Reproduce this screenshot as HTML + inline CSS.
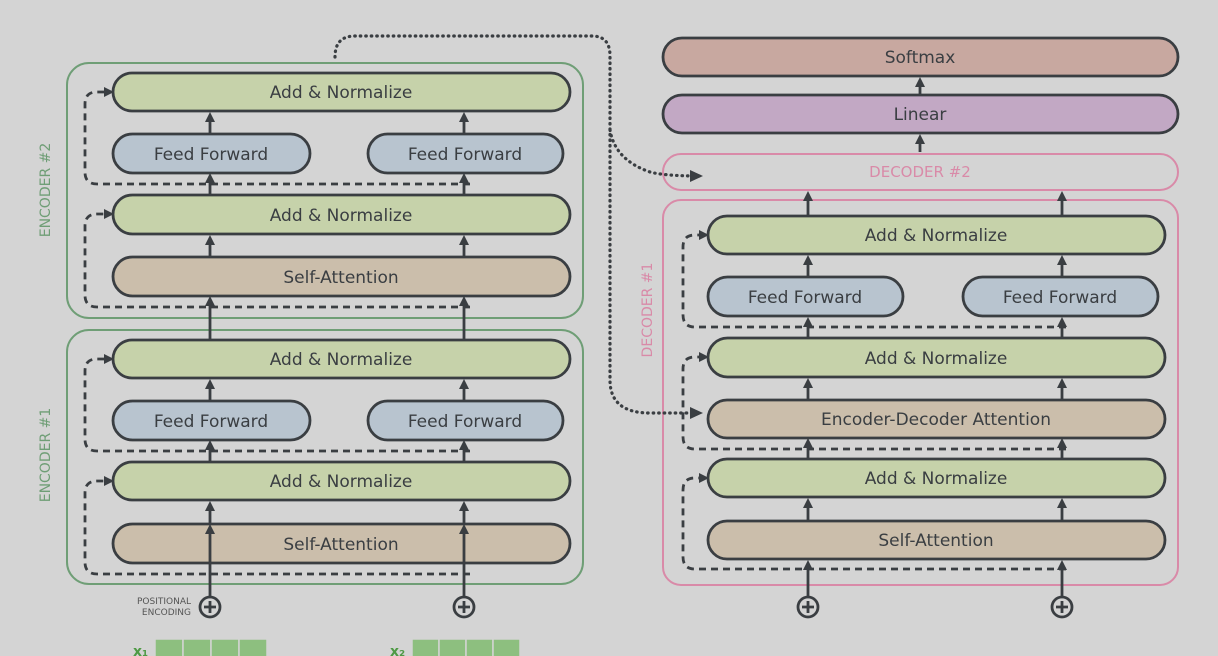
<!DOCTYPE html>
<html><head><meta charset="utf-8"><style>
html,body{margin:0;padding:0;background:#d4d4d4;}
svg{display:block}
text{font-family:"DejaVu Sans","Liberation Sans",sans-serif;}
</style></head><body>
<svg width="1218" height="656" viewBox="0 0 1218 656" xmlns="http://www.w3.org/2000/svg">
<defs>
<marker id="ah" markerWidth="10" markerHeight="10" refX="7" refY="5" orient="auto" markerUnits="userSpaceOnUse"><path d="M0,0 L10,5 L0,10 z" fill="#3a3e42"/></marker>
<marker id="ah2" markerWidth="13" markerHeight="12" refX="10" refY="6" orient="auto" markerUnits="userSpaceOnUse"><path d="M0,0 L13,6 L0,12 z" fill="#3a3e42"/></marker>
</defs>
<rect width="1218" height="656" fill="#d4d4d4"/>
<g fill="none" stroke-width="2">
<rect x="67" y="63" width="516" height="255" rx="22" stroke="#6f9e76"/>
<rect x="67" y="330" width="516" height="254" rx="22" stroke="#6f9e76"/>
<rect x="663" y="154" width="515" height="36" rx="18" stroke="#d98aa8"/>
<rect x="663" y="200" width="515" height="385" rx="18" stroke="#d98aa8"/>
</g>
<g font-size="14" fill="#6f9e76">
<text transform="translate(50,190) rotate(-90)" text-anchor="middle">ENCODER #2</text>
<text transform="translate(50,455) rotate(-90)" text-anchor="middle">ENCODER #1</text>
</g>
<text transform="translate(652,310) rotate(-90)" text-anchor="middle" font-size="14" fill="#d98aa8">DECODER #1</text>
<text x="920" y="177" text-anchor="middle" font-size="15" fill="#d98aa8">DECODER #2</text>
<g stroke="#3a3e42" stroke-width="2.8">
<rect x="113" y="73" width="457" height="38" rx="19" fill="#c6d2aa"/>
<rect x="113" y="134" width="197" height="39" rx="19.5" fill="#b8c4cf"/>
<rect x="368" y="134" width="195" height="39" rx="19.5" fill="#b8c4cf"/>
<rect x="113" y="195" width="457" height="39" rx="19.5" fill="#c6d2aa"/>
<rect x="113" y="257" width="457" height="39" rx="19.5" fill="#cbbeab"/>
<rect x="113" y="340" width="457" height="38" rx="19" fill="#c6d2aa"/>
<rect x="113" y="401" width="197" height="39" rx="19.5" fill="#b8c4cf"/>
<rect x="368" y="401" width="195" height="39" rx="19.5" fill="#b8c4cf"/>
<rect x="113" y="462" width="457" height="38" rx="19" fill="#c6d2aa"/>
<rect x="113" y="524" width="457" height="39" rx="19.5" fill="#cbbeab"/>
<rect x="663" y="38" width="515" height="38" rx="19" fill="#c8a8a0"/>
<rect x="663" y="95" width="515" height="38" rx="19" fill="#c2a8c4"/>
<rect x="708" y="216" width="457" height="38" rx="19" fill="#c6d2aa"/>
<rect x="708" y="277" width="195" height="39" rx="19.5" fill="#b8c4cf"/>
<rect x="963" y="277" width="195" height="39" rx="19.5" fill="#b8c4cf"/>
<rect x="708" y="338" width="457" height="39" rx="19.5" fill="#c6d2aa"/>
<rect x="708" y="400" width="457" height="38" rx="19" fill="#cbbeab"/>
<rect x="708" y="459" width="457" height="38" rx="19" fill="#c6d2aa"/>
<rect x="708" y="521" width="457" height="38" rx="19" fill="#cbbeab"/>
</g>
<g font-size="17" fill="#3a3e42" text-anchor="middle">
<text x="341" y="98">Add &amp; Normalize</text>
<text x="211" y="160">Feed Forward</text>
<text x="465" y="160">Feed Forward</text>
<text x="341" y="221">Add &amp; Normalize</text>
<text x="341" y="283">Self-Attention</text>
<text x="341" y="365">Add &amp; Normalize</text>
<text x="211" y="427">Feed Forward</text>
<text x="465" y="427">Feed Forward</text>
<text x="341" y="487">Add &amp; Normalize</text>
<text x="341" y="550">Self-Attention</text>
<text x="920" y="63">Softmax</text>
<text x="920" y="120">Linear</text>
<text x="936" y="241">Add &amp; Normalize</text>
<text x="805" y="303">Feed Forward</text>
<text x="1060" y="303">Feed Forward</text>
<text x="936" y="364">Add &amp; Normalize</text>
<text x="936" y="425">Encoder-Decoder Attention</text>
<text x="936" y="484">Add &amp; Normalize</text>
<text x="936" y="546">Self-Attention</text>
</g>
<g stroke="#3a3e42" stroke-width="2.8" fill="none" marker-end="url(#ah)">
<path d="M210 597 V527"/><path d="M464 597 V527"/>
<path d="M210 524 V504"/><path d="M464 524 V504"/>
<path d="M210 462 V443"/><path d="M464 462 V443"/>
<path d="M210 401 V382"/><path d="M464 401 V382"/>
<path d="M210 340 V299"/><path d="M464 340 V299"/>
<path d="M210 257 V238"/><path d="M464 257 V238"/>
<path d="M210 195 V176"/><path d="M464 195 V176"/>
<path d="M210 134 V115"/><path d="M464 134 V115"/>
<path d="M808 597 V563"/><path d="M1062 597 V563"/>
<path d="M808 521 V501"/><path d="M1062 521 V501"/>
<path d="M808 459 V441"/><path d="M1062 459 V441"/>
<path d="M808 400 V381"/><path d="M1062 400 V381"/>
<path d="M808 338 V320"/><path d="M1062 338 V320"/>
<path d="M808 277 V258"/><path d="M1062 277 V258"/>
<path d="M808 216 V194"/><path d="M1062 216 V194"/>
<path d="M920 95 V80"/><path d="M920 152 V137"/>
</g>
<g stroke="#3a3e42" stroke-width="2.8" fill="none" stroke-dasharray="7,5" marker-end="url(#ah)">
<path d="M470 184 H97 Q85 184 85 172 V104 Q85 92 97 92 H111"/>
<path d="M470 307 H97 Q85 307 85 295 V226 Q85 214 97 214 H111"/>
<path d="M470 451 H97 Q85 451 85 439 V371 Q85 359 97 359 H111"/>
<path d="M470 574 H97 Q85 574 85 562 V493 Q85 481 97 481 H111"/>
<path d="M1066 327 H695 Q683 327 683 315 V247 Q683 235 695 235 H706"/>
<path d="M1066 449 H695 Q683 449 683 437 V369 Q683 357 695 357 H706"/>
<path d="M1066 569 H695 Q683 569 683 557 V490 Q683 478 695 478 H706"/>
</g>
<g stroke="#3a3e42" stroke-width="3.2" fill="none" stroke-dasharray="0.5,5" stroke-linecap="round">
<path d="M335 57 Q335 36 355 36 H592 Q610 36 610 56 V380 Q610 413 650 413 H700" marker-end="url(#ah2)"/>
<path d="M610 130 Q615 160 650 172 Q665 176 700 176" marker-end="url(#ah2)"/>
</g>
<g stroke="#3a3e42" stroke-width="2.8" fill="none">
<circle cx="210" cy="607" r="10"/><path d="M204 607 H216 M210 601 V613"/>
<circle cx="464" cy="607" r="10"/><path d="M458 607 H470 M464 601 V613"/>
<circle cx="808" cy="607" r="10"/><path d="M802 607 H814 M808 601 V613"/>
<circle cx="1062" cy="607" r="10"/><path d="M1056 607 H1068 M1062 601 V613"/>
</g>
<g font-size="9" fill="#555" text-anchor="end">
<text x="191" y="604">POSITIONAL</text><text x="191" y="615">ENCODING</text>
</g>
<g fill="#8dbf7f" stroke="#d4d4d4" stroke-width="1.5">
<rect x="155" y="639" width="28" height="20"/><rect x="183" y="639" width="28" height="20"/><rect x="211" y="639" width="28" height="20"/><rect x="239" y="639" width="28" height="20"/>
<rect x="412" y="639" width="27" height="20"/><rect x="439" y="639" width="27" height="20"/><rect x="466" y="639" width="27" height="20"/><rect x="493" y="639" width="27" height="20"/>
</g>
<g font-size="14" font-weight="bold" fill="#4f9a45">
<text x="133" y="656">x₁</text><text x="390" y="656">x₂</text>
</g>
</svg>
</body></html>
